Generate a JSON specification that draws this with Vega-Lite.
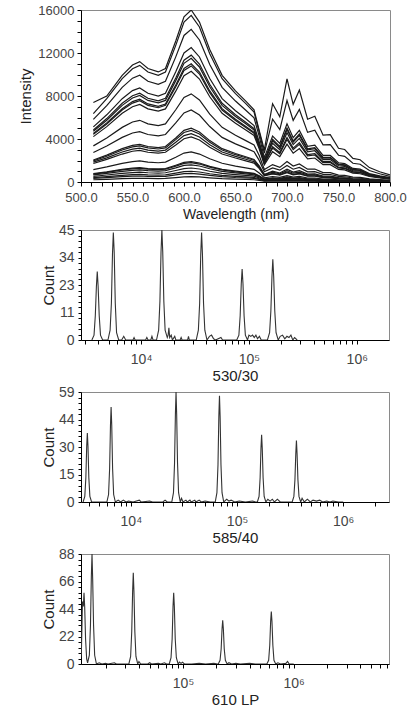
{
  "$schema": "https://vega.github.io/schema/vega-lite/v6.json",
  "padding": {"left": 18, "top": 3, "right": 4, "bottom": 0},
  "background": "white",
  "spacing": 0,
  "config": {
    "font": "Liberation Sans",
    "view": {"stroke": "#8a8a8a", "strokeWidth": 1},
    "axis": {
      "domainColor": "#000", "tickColor": "#000", "labelColor": "#444", "titleColor": "#222",
      "labelFont": "Liberation Sans", "titleFont": "Liberation Sans", "titleFontWeight": "normal",
      "grid": false, "labelFlush": false, "labelOverlap": false, "labelBound": false
    }
  },
  "datasets": {
    "spec": [
      {"s":1,"w":512,"v":7400},{"s":1,"w":525,"v":8000},{"s":1,"w":540,"v":9920},{"s":1,"w":550,"v":10880},{"s":1,"w":557,"v":11200},{"s":1,"w":565,"v":10560},{"s":1,"w":575,"v":10240},{"s":1,"w":582,"v":10560},{"s":1,"w":592,"v":13120},{"s":1,"w":600,"v":15360},{"s":1,"w":607,"v":16000},{"s":1,"w":615,"v":14880},{"s":1,"w":625,"v":12320},{"s":1,"w":637,"v":9920},{"s":1,"w":650,"v":8480},{"s":1,"w":660,"v":7520},{"s":1,"w":668,"v":6720},{"s":1,"w":673,"v":4800},{"s":1,"w":678,"v":2980},{"s":1,"w":686,"v":7280},{"s":1,"w":693,"v":6060},{"s":1,"w":700,"v":9600},{"s":1,"w":706,"v":7230},{"s":1,"w":712,"v":8560},{"s":1,"w":720,"v":5840},{"s":1,"w":727,"v":6110},{"s":1,"w":735,"v":4360},{"s":1,"w":742,"v":4400},{"s":1,"w":750,"v":3140},{"s":1,"w":756,"v":3020},{"s":1,"w":764,"v":2190},{"s":1,"w":771,"v":2070},{"s":1,"w":780,"v":1340},{"s":1,"w":790,"v":950},{"s":1,"w":800,"v":660},
      {"s":2,"w":512,"v":6360},{"s":2,"w":525,"v":7750},{"s":2,"w":540,"v":9610},{"s":2,"w":550,"v":10540},{"s":2,"w":557,"v":10850},{"s":2,"w":565,"v":10230},{"s":2,"w":575,"v":9920},{"s":2,"w":582,"v":10230},{"s":2,"w":592,"v":12710},{"s":2,"w":600,"v":14880},{"s":2,"w":607,"v":15500},{"s":2,"w":615,"v":14420},{"s":2,"w":625,"v":11940},{"s":2,"w":637,"v":9610},{"s":2,"w":650,"v":8220},{"s":2,"w":660,"v":7290},{"s":2,"w":668,"v":6510},{"s":2,"w":673,"v":4650},{"s":2,"w":678,"v":2680},{"s":2,"w":686,"v":5850},{"s":2,"w":693,"v":4870},{"s":2,"w":700,"v":7580},{"s":2,"w":706,"v":5730},{"s":2,"w":712,"v":6740},{"s":2,"w":720,"v":4620},{"s":2,"w":727,"v":4820},{"s":2,"w":735,"v":3450},{"s":2,"w":742,"v":3470},{"s":2,"w":750,"v":2490},{"s":2,"w":756,"v":2390},{"s":2,"w":764,"v":1740},{"s":2,"w":771,"v":1650},{"s":2,"w":780,"v":1070},{"s":2,"w":790,"v":770},{"s":2,"w":800,"v":530},
      {"s":3,"w":512,"v":5820},{"s":3,"w":525,"v":7100},{"s":3,"w":540,"v":8800},{"s":3,"w":550,"v":9660},{"s":3,"w":557,"v":9940},{"s":3,"w":565,"v":9370},{"s":3,"w":575,"v":9090},{"s":3,"w":582,"v":9370},{"s":3,"w":592,"v":11640},{"s":3,"w":600,"v":13630},{"s":3,"w":607,"v":14200},{"s":3,"w":615,"v":13210},{"s":3,"w":625,"v":10930},{"s":3,"w":637,"v":8800},{"s":3,"w":650,"v":7530},{"s":3,"w":660,"v":6670},{"s":3,"w":668,"v":5960},{"s":3,"w":673,"v":4260},{"s":3,"w":678,"v":2270},{"s":3,"w":686,"v":4280},{"s":3,"w":693,"v":3580},{"s":3,"w":700,"v":5410},{"s":3,"w":706,"v":4120},{"s":3,"w":712,"v":4800},{"s":3,"w":720,"v":3320},{"s":3,"w":727,"v":3430},{"s":3,"w":735,"v":2470},{"s":3,"w":742,"v":2470},{"s":3,"w":750,"v":1790},{"s":3,"w":756,"v":1710},{"s":3,"w":764,"v":1260},{"s":3,"w":771,"v":1190},{"s":3,"w":780,"v":780},{"s":3,"w":790,"v":570},{"s":3,"w":800,"v":400},
      {"s":4,"w":512,"v":5130},{"s":4,"w":525,"v":6250},{"s":4,"w":540,"v":7750},{"s":4,"w":550,"v":8500},{"s":4,"w":557,"v":8750},{"s":4,"w":565,"v":8250},{"s":4,"w":575,"v":8000},{"s":4,"w":582,"v":8250},{"s":4,"w":592,"v":10250},{"s":4,"w":600,"v":12000},{"s":4,"w":607,"v":12500},{"s":4,"w":615,"v":11630},{"s":4,"w":625,"v":9630},{"s":4,"w":637,"v":7750},{"s":4,"w":650,"v":6630},{"s":4,"w":660,"v":5880},{"s":4,"w":668,"v":5250},{"s":4,"w":673,"v":3750},{"s":4,"w":678,"v":2030},{"s":4,"w":686,"v":3960},{"s":4,"w":693,"v":3300},{"s":4,"w":700,"v":5030},{"s":4,"w":706,"v":3820},{"s":4,"w":712,"v":4460},{"s":4,"w":720,"v":3080},{"s":4,"w":727,"v":3190},{"s":4,"w":735,"v":2290},{"s":4,"w":742,"v":2300},{"s":4,"w":750,"v":1660},{"s":4,"w":756,"v":1590},{"s":4,"w":764,"v":1170},{"s":4,"w":771,"v":1100},{"s":4,"w":780,"v":720},{"s":4,"w":790,"v":520},{"s":4,"w":800,"v":360},
      {"s":5,"w":512,"v":4720},{"s":5,"w":525,"v":5750},{"s":5,"w":540,"v":7130},{"s":5,"w":550,"v":7820},{"s":5,"w":557,"v":8050},{"s":5,"w":565,"v":7590},{"s":5,"w":575,"v":7360},{"s":5,"w":582,"v":7590},{"s":5,"w":592,"v":9430},{"s":5,"w":600,"v":11040},{"s":5,"w":607,"v":11500},{"s":5,"w":615,"v":10700},{"s":5,"w":625,"v":8860},{"s":5,"w":637,"v":7130},{"s":5,"w":650,"v":6100},{"s":5,"w":660,"v":5410},{"s":5,"w":668,"v":4830},{"s":5,"w":673,"v":3450},{"s":5,"w":678,"v":1860},{"s":5,"w":686,"v":3610},{"s":5,"w":693,"v":3010},{"s":5,"w":700,"v":4580},{"s":5,"w":706,"v":3480},{"s":5,"w":712,"v":4060},{"s":5,"w":720,"v":2800},{"s":5,"w":727,"v":2910},{"s":5,"w":735,"v":2090},{"s":5,"w":742,"v":2090},{"s":5,"w":750,"v":1510},{"s":5,"w":756,"v":1450},{"s":5,"w":764,"v":1060},{"s":5,"w":771,"v":1000},{"s":5,"w":780,"v":660},{"s":5,"w":790,"v":480},{"s":5,"w":800,"v":330},
      {"s":6,"w":512,"v":4510},{"s":6,"w":525,"v":5500},{"s":6,"w":540,"v":6820},{"s":6,"w":550,"v":7480},{"s":6,"w":557,"v":7700},{"s":6,"w":565,"v":7260},{"s":6,"w":575,"v":7040},{"s":6,"w":582,"v":7260},{"s":6,"w":592,"v":9020},{"s":6,"w":600,"v":10560},{"s":6,"w":607,"v":11000},{"s":6,"w":615,"v":10230},{"s":6,"w":625,"v":8470},{"s":6,"w":637,"v":6820},{"s":6,"w":650,"v":5830},{"s":6,"w":660,"v":5170},{"s":6,"w":668,"v":4620},{"s":6,"w":673,"v":3300},{"s":6,"w":678,"v":1730},{"s":6,"w":686,"v":3150},{"s":6,"w":693,"v":2630},{"s":6,"w":700,"v":3950},{"s":6,"w":706,"v":3010},{"s":6,"w":712,"v":3500},{"s":6,"w":720,"v":2430},{"s":6,"w":727,"v":2510},{"s":6,"w":735,"v":1810},{"s":6,"w":742,"v":1810},{"s":6,"w":750,"v":1310},{"s":6,"w":756,"v":1250},{"s":6,"w":764,"v":920},{"s":6,"w":771,"v":870},{"s":6,"w":780,"v":570},{"s":6,"w":790,"v":420},{"s":6,"w":800,"v":290},
      {"s":7,"w":512,"v":4220},{"s":7,"w":525,"v":5150},{"s":7,"w":540,"v":6390},{"s":7,"w":550,"v":7000},{"s":7,"w":557,"v":7210},{"s":7,"w":565,"v":6800},{"s":7,"w":575,"v":6590},{"s":7,"w":582,"v":6800},{"s":7,"w":592,"v":8450},{"s":7,"w":600,"v":9890},{"s":7,"w":607,"v":10300},{"s":7,"w":615,"v":9580},{"s":7,"w":625,"v":7930},{"s":7,"w":637,"v":6390},{"s":7,"w":650,"v":5460},{"s":7,"w":660,"v":4840},{"s":7,"w":668,"v":4330},{"s":7,"w":673,"v":3090},{"s":7,"w":678,"v":1600},{"s":7,"w":686,"v":2820},{"s":7,"w":693,"v":2360},{"s":7,"w":700,"v":3520},{"s":7,"w":706,"v":2680},{"s":7,"w":712,"v":3110},{"s":7,"w":720,"v":2160},{"s":7,"w":727,"v":2230},{"s":7,"w":735,"v":1610},{"s":7,"w":742,"v":1610},{"s":7,"w":750,"v":1170},{"s":7,"w":756,"v":1120},{"s":7,"w":764,"v":830},{"s":7,"w":771,"v":770},{"s":7,"w":780,"v":510},{"s":7,"w":790,"v":370},{"s":7,"w":800,"v":260},
      {"s":8,"w":512,"v":3360},{"s":8,"w":525,"v":4100},{"s":8,"w":540,"v":5080},{"s":8,"w":550,"v":5580},{"s":8,"w":557,"v":5740},{"s":8,"w":565,"v":5410},{"s":8,"w":575,"v":5250},{"s":8,"w":582,"v":5410},{"s":8,"w":592,"v":6720},{"s":8,"w":600,"v":7870},{"s":8,"w":607,"v":8200},{"s":8,"w":615,"v":7630},{"s":8,"w":625,"v":6310},{"s":8,"w":637,"v":5080},{"s":8,"w":650,"v":4350},{"s":8,"w":660,"v":3850},{"s":8,"w":668,"v":3440},{"s":8,"w":673,"v":2460},{"s":8,"w":678,"v":1160},{"s":8,"w":686,"v":1620},{"s":8,"w":693,"v":1360},{"s":8,"w":700,"v":1910},{"s":8,"w":706,"v":1480},{"s":8,"w":712,"v":1680},{"s":8,"w":720,"v":1190},{"s":8,"w":727,"v":1210},{"s":8,"w":735,"v":880},{"s":8,"w":742,"v":870},{"s":8,"w":750,"v":640},{"s":8,"w":756,"v":610},{"s":8,"w":764,"v":460},{"s":8,"w":771,"v":430},{"s":8,"w":780,"v":290},{"s":8,"w":790,"v":220},{"s":8,"w":800,"v":160},
      {"s":9,"w":512,"v":2750},{"s":9,"w":525,"v":3350},{"s":9,"w":540,"v":4150},{"s":9,"w":550,"v":4560},{"s":9,"w":557,"v":4690},{"s":9,"w":565,"v":4420},{"s":9,"w":575,"v":4290},{"s":9,"w":582,"v":4420},{"s":9,"w":592,"v":5490},{"s":9,"w":600,"v":6430},{"s":9,"w":607,"v":6700},{"s":9,"w":615,"v":6230},{"s":9,"w":625,"v":5160},{"s":9,"w":637,"v":4150},{"s":9,"w":650,"v":3550},{"s":9,"w":660,"v":3150},{"s":9,"w":668,"v":2810},{"s":9,"w":673,"v":2010},{"s":9,"w":678,"v":950},{"s":9,"w":686,"v":1310},{"s":9,"w":693,"v":1100},{"s":9,"w":700,"v":1540},{"s":9,"w":706,"v":1190},{"s":9,"w":712,"v":1350},{"s":9,"w":720,"v":950},{"s":9,"w":727,"v":970},{"s":9,"w":735,"v":710},{"s":9,"w":742,"v":700},{"s":9,"w":750,"v":520},{"s":9,"w":756,"v":490},{"s":9,"w":764,"v":370},{"s":9,"w":771,"v":350},{"s":9,"w":780,"v":240},{"s":9,"w":790,"v":180},{"s":9,"w":800,"v":130},
      {"s":10,"w":512,"v":2050},{"s":10,"w":525,"v":2500},{"s":10,"w":540,"v":3100},{"s":10,"w":550,"v":3400},{"s":10,"w":557,"v":3500},{"s":10,"w":565,"v":3300},{"s":10,"w":575,"v":3200},{"s":10,"w":582,"v":3300},{"s":10,"w":592,"v":4100},{"s":10,"w":600,"v":4800},{"s":10,"w":607,"v":5000},{"s":10,"w":615,"v":4650},{"s":10,"w":625,"v":3850},{"s":10,"w":637,"v":3100},{"s":10,"w":650,"v":2650},{"s":10,"w":660,"v":2350},{"s":10,"w":668,"v":2100},{"s":10,"w":673,"v":1500},{"s":10,"w":678,"v":700},{"s":10,"w":686,"v":910},{"s":10,"w":693,"v":760},{"s":10,"w":700,"v":1050},{"s":10,"w":706,"v":820},{"s":10,"w":712,"v":920},{"s":10,"w":720,"v":660},{"s":10,"w":727,"v":660},{"s":10,"w":735,"v":490},{"s":10,"w":742,"v":480},{"s":10,"w":750,"v":360},{"s":10,"w":756,"v":340},{"s":10,"w":764,"v":260},{"s":10,"w":771,"v":240},{"s":10,"w":780,"v":160},{"s":10,"w":790,"v":120},{"s":10,"w":800,"v":90},
      {"s":11,"w":512,"v":1850},{"s":11,"w":525,"v":2250},{"s":11,"w":540,"v":2790},{"s":11,"w":550,"v":3060},{"s":11,"w":557,"v":3150},{"s":11,"w":565,"v":2970},{"s":11,"w":575,"v":2880},{"s":11,"w":582,"v":2970},{"s":11,"w":592,"v":3690},{"s":11,"w":600,"v":4320},{"s":11,"w":607,"v":4500},{"s":11,"w":615,"v":4190},{"s":11,"w":625,"v":3470},{"s":11,"w":637,"v":2790},{"s":11,"w":650,"v":2390},{"s":11,"w":660,"v":2120},{"s":11,"w":668,"v":1890},{"s":11,"w":673,"v":1350},{"s":11,"w":678,"v":620},{"s":11,"w":686,"v":810},{"s":11,"w":693,"v":680},{"s":11,"w":700,"v":930},{"s":11,"w":706,"v":720},{"s":11,"w":712,"v":810},{"s":11,"w":720,"v":580},{"s":11,"w":727,"v":580},{"s":11,"w":735,"v":430},{"s":11,"w":742,"v":420},{"s":11,"w":750,"v":310},{"s":11,"w":756,"v":300},{"s":11,"w":764,"v":230},{"s":11,"w":771,"v":210},{"s":11,"w":780,"v":150},{"s":11,"w":790,"v":110},{"s":11,"w":800,"v":80},
      {"s":12,"w":512,"v":1150},{"s":12,"w":525,"v":1400},{"s":12,"w":540,"v":1740},{"s":12,"w":550,"v":1900},{"s":12,"w":557,"v":1960},{"s":12,"w":565,"v":1850},{"s":12,"w":575,"v":1790},{"s":12,"w":582,"v":1850},{"s":12,"w":592,"v":2300},{"s":12,"w":600,"v":2690},{"s":12,"w":607,"v":2800},{"s":12,"w":615,"v":2600},{"s":12,"w":625,"v":2160},{"s":12,"w":637,"v":1740},{"s":12,"w":650,"v":1480},{"s":12,"w":660,"v":1320},{"s":12,"w":668,"v":1180},{"s":12,"w":673,"v":840},{"s":12,"w":678,"v":390},{"s":12,"w":686,"v":510},{"s":12,"w":693,"v":430},{"s":12,"w":700,"v":590},{"s":12,"w":706,"v":460},{"s":12,"w":712,"v":520},{"s":12,"w":720,"v":370},{"s":12,"w":727,"v":370},{"s":12,"w":735,"v":270},{"s":12,"w":742,"v":270},{"s":12,"w":750,"v":200},{"s":12,"w":756,"v":190},{"s":12,"w":764,"v":140},{"s":12,"w":771,"v":130},{"s":12,"w":780,"v":90},{"s":12,"w":790,"v":70},{"s":12,"w":800,"v":50},
      {"s":13,"w":512,"v":780},{"s":13,"w":525,"v":950},{"s":13,"w":540,"v":1180},{"s":13,"w":550,"v":1290},{"s":13,"w":557,"v":1330},{"s":13,"w":565,"v":1250},{"s":13,"w":575,"v":1220},{"s":13,"w":582,"v":1250},{"s":13,"w":592,"v":1560},{"s":13,"w":600,"v":1820},{"s":13,"w":607,"v":1900},{"s":13,"w":615,"v":1770},{"s":13,"w":625,"v":1460},{"s":13,"w":637,"v":1180},{"s":13,"w":650,"v":1010},{"s":13,"w":660,"v":890},{"s":13,"w":668,"v":800},{"s":13,"w":673,"v":570},{"s":13,"w":678,"v":260},{"s":13,"w":686,"v":340},{"s":13,"w":693,"v":290},{"s":13,"w":700,"v":400},{"s":13,"w":706,"v":310},{"s":13,"w":712,"v":350},{"s":13,"w":720,"v":250},{"s":13,"w":727,"v":250},{"s":13,"w":735,"v":180},{"s":13,"w":742,"v":180},{"s":13,"w":750,"v":130},{"s":13,"w":756,"v":130},{"s":13,"w":764,"v":100},{"s":13,"w":771,"v":90},{"s":13,"w":780,"v":60},{"s":13,"w":790,"v":50},{"s":13,"w":800,"v":30},
      {"s":14,"w":512,"v":660},{"s":14,"w":525,"v":800},{"s":14,"w":540,"v":990},{"s":14,"w":550,"v":1090},{"s":14,"w":557,"v":1120},{"s":14,"w":565,"v":1060},{"s":14,"w":575,"v":1020},{"s":14,"w":582,"v":1060},{"s":14,"w":592,"v":1310},{"s":14,"w":600,"v":1540},{"s":14,"w":607,"v":1600},{"s":14,"w":615,"v":1490},{"s":14,"w":625,"v":1230},{"s":14,"w":637,"v":990},{"s":14,"w":650,"v":850},{"s":14,"w":660,"v":750},{"s":14,"w":668,"v":670},{"s":14,"w":673,"v":480},{"s":14,"w":678,"v":220},{"s":14,"w":686,"v":290},{"s":14,"w":693,"v":240},{"s":14,"w":700,"v":330},{"s":14,"w":706,"v":260},{"s":14,"w":712,"v":290},{"s":14,"w":720,"v":210},{"s":14,"w":727,"v":210},{"s":14,"w":735,"v":150},{"s":14,"w":742,"v":150},{"s":14,"w":750,"v":110},{"s":14,"w":756,"v":110},{"s":14,"w":764,"v":80},{"s":14,"w":771,"v":70},{"s":14,"w":780,"v":50},{"s":14,"w":790,"v":40},{"s":14,"w":800,"v":30},
      {"s":15,"w":512,"v":410},{"s":15,"w":525,"v":500},{"s":15,"w":540,"v":620},{"s":15,"w":550,"v":680},{"s":15,"w":557,"v":700},{"s":15,"w":565,"v":660},{"s":15,"w":575,"v":640},{"s":15,"w":582,"v":660},{"s":15,"w":592,"v":820},{"s":15,"w":600,"v":960},{"s":15,"w":607,"v":1000},{"s":15,"w":615,"v":930},{"s":15,"w":625,"v":770},{"s":15,"w":637,"v":620},{"s":15,"w":650,"v":530},{"s":15,"w":660,"v":470},{"s":15,"w":668,"v":420},{"s":15,"w":673,"v":300},{"s":15,"w":678,"v":140},{"s":15,"w":686,"v":180},{"s":15,"w":693,"v":150},{"s":15,"w":700,"v":200},{"s":15,"w":706,"v":160},{"s":15,"w":712,"v":180},{"s":15,"w":720,"v":130},{"s":15,"w":727,"v":130},{"s":15,"w":735,"v":90},{"s":15,"w":742,"v":90},{"s":15,"w":750,"v":70},{"s":15,"w":756,"v":60},{"s":15,"w":764,"v":50},{"s":15,"w":771,"v":45},{"s":15,"w":780,"v":30},{"s":15,"w":790,"v":20},{"s":15,"w":800,"v":20},
      {"s":16,"w":512,"v":210},{"s":16,"w":525,"v":250},{"s":16,"w":540,"v":310},{"s":16,"w":550,"v":340},{"s":16,"w":557,"v":350},{"s":16,"w":565,"v":330},{"s":16,"w":575,"v":320},{"s":16,"w":582,"v":330},{"s":16,"w":592,"v":410},{"s":16,"w":600,"v":480},{"s":16,"w":607,"v":500},{"s":16,"w":615,"v":470},{"s":16,"w":625,"v":390},{"s":16,"w":637,"v":310},{"s":16,"w":650,"v":270},{"s":16,"w":660,"v":240},{"s":16,"w":668,"v":210},{"s":16,"w":673,"v":150},{"s":16,"w":678,"v":70},{"s":16,"w":686,"v":90},{"s":16,"w":693,"v":80},{"s":16,"w":700,"v":100},{"s":16,"w":706,"v":80},{"s":16,"w":712,"v":90},{"s":16,"w":720,"v":70},{"s":16,"w":727,"v":70},{"s":16,"w":735,"v":50},{"s":16,"w":742,"v":50},{"s":16,"w":750,"v":40},{"s":16,"w":756,"v":30},{"s":16,"w":764,"v":30},{"s":16,"w":771,"v":20},{"s":16,"w":780,"v":20},{"s":16,"w":790,"v":10},{"s":16,"w":800,"v":10},
      {"s":17,"w":512,"v":4840},{"s":17,"w":525,"v":5900},{"s":17,"w":540,"v":7320},{"s":17,"w":550,"v":8020},{"s":17,"w":557,"v":8260},{"s":17,"w":565,"v":7790},{"s":17,"w":575,"v":7550},{"s":17,"w":582,"v":7790},{"s":17,"w":592,"v":9680},{"s":17,"w":600,"v":11330},{"s":17,"w":607,"v":11800},{"s":17,"w":615,"v":10970},{"s":17,"w":625,"v":9090},{"s":17,"w":637,"v":7320},{"s":17,"w":650,"v":6250},{"s":17,"w":660,"v":5550},{"s":17,"w":668,"v":4960},{"s":17,"w":673,"v":3540},{"s":17,"w":678,"v":1930},{"s":17,"w":686,"v":3840},{"s":17,"w":693,"v":3200},{"s":17,"w":700,"v":4890},{"s":17,"w":706,"v":3710},{"s":17,"w":712,"v":4340},{"s":17,"w":720,"v":2990},{"s":17,"w":727,"v":3110},{"s":17,"w":735,"v":2230},{"s":17,"w":742,"v":2240},{"s":17,"w":750,"v":1610},{"s":17,"w":756,"v":1550},{"s":17,"w":764,"v":1140},{"s":17,"w":771,"v":1070},{"s":17,"w":780,"v":700},{"s":17,"w":790,"v":510},{"s":17,"w":800,"v":350},
      {"s":18,"w":512,"v":4430},{"s":18,"w":525,"v":5400},{"s":18,"w":540,"v":6700},{"s":18,"w":550,"v":7340},{"s":18,"w":557,"v":7560},{"s":18,"w":565,"v":7130},{"s":18,"w":575,"v":6910},{"s":18,"w":582,"v":7130},{"s":18,"w":592,"v":8860},{"s":18,"w":600,"v":10370},{"s":18,"w":607,"v":10800},{"s":18,"w":615,"v":10040},{"s":18,"w":625,"v":8320},{"s":18,"w":637,"v":6700},{"s":18,"w":650,"v":5720},{"s":18,"w":660,"v":5080},{"s":18,"w":668,"v":4540},{"s":18,"w":673,"v":3240},{"s":18,"w":678,"v":1730},{"s":18,"w":686,"v":3280},{"s":18,"w":693,"v":2740},{"s":18,"w":700,"v":4140},{"s":18,"w":706,"v":3150},{"s":18,"w":712,"v":3670},{"s":18,"w":720,"v":2540},{"s":18,"w":727,"v":2630},{"s":18,"w":735,"v":1890},{"s":18,"w":742,"v":1890},{"s":18,"w":750,"v":1370},{"s":18,"w":756,"v":1310},{"s":18,"w":764,"v":970},{"s":18,"w":771,"v":910},{"s":18,"w":780,"v":600},{"s":18,"w":790,"v":430},{"s":18,"w":800,"v":300},
      {"s":19,"w":512,"v":1970},{"s":19,"w":525,"v":2400},{"s":19,"w":540,"v":2980},{"s":19,"w":550,"v":3260},{"s":19,"w":557,"v":3360},{"s":19,"w":565,"v":3170},{"s":19,"w":575,"v":3070},{"s":19,"w":582,"v":3170},{"s":19,"w":592,"v":3940},{"s":19,"w":600,"v":4610},{"s":19,"w":607,"v":4800},{"s":19,"w":615,"v":4460},{"s":19,"w":625,"v":3700},{"s":19,"w":637,"v":2980},{"s":19,"w":650,"v":2540},{"s":19,"w":660,"v":2260},{"s":19,"w":668,"v":2020},{"s":19,"w":673,"v":1440},{"s":19,"w":678,"v":690},{"s":19,"w":686,"v":1000},{"s":19,"w":693,"v":840},{"s":19,"w":700,"v":1190},{"s":19,"w":706,"v":920},{"s":19,"w":712,"v":1050},{"s":19,"w":720,"v":740},{"s":19,"w":727,"v":750},{"s":19,"w":735,"v":550},{"s":19,"w":742,"v":540},{"s":19,"w":750,"v":400},{"s":19,"w":756,"v":380},{"s":19,"w":764,"v":290},{"s":19,"w":771,"v":270},{"s":19,"w":780,"v":180},{"s":19,"w":790,"v":130},{"s":19,"w":800,"v":100},
      {"s":20,"w":512,"v":1720},{"s":20,"w":525,"v":2100},{"s":20,"w":540,"v":2600},{"s":20,"w":550,"v":2860},{"s":20,"w":557,"v":2940},{"s":20,"w":565,"v":2770},{"s":20,"w":575,"v":2690},{"s":20,"w":582,"v":2770},{"s":20,"w":592,"v":3440},{"s":20,"w":600,"v":4030},{"s":20,"w":607,"v":4200},{"s":20,"w":615,"v":3910},{"s":20,"w":625,"v":3230},{"s":20,"w":637,"v":2600},{"s":20,"w":650,"v":2230},{"s":20,"w":660,"v":1970},{"s":20,"w":668,"v":1760},{"s":20,"w":673,"v":1260},{"s":20,"w":678,"v":580},{"s":20,"w":686,"v":750},{"s":20,"w":693,"v":630},{"s":20,"w":700,"v":860},{"s":20,"w":706,"v":670},{"s":20,"w":712,"v":750},{"s":20,"w":720,"v":540},{"s":20,"w":727,"v":540},{"s":20,"w":735,"v":400},{"s":20,"w":742,"v":390},{"s":20,"w":750,"v":290},{"s":20,"w":756,"v":280},{"s":20,"w":764,"v":210},{"s":20,"w":771,"v":200},{"s":20,"w":780,"v":130},{"s":20,"w":790,"v":100},{"s":20,"w":800,"v":70},
      {"s":21,"w":512,"v":740},{"s":21,"w":525,"v":900},{"s":21,"w":540,"v":1120},{"s":21,"w":550,"v":1220},{"s":21,"w":557,"v":1260},{"s":21,"w":565,"v":1190},{"s":21,"w":575,"v":1150},{"s":21,"w":582,"v":1190},{"s":21,"w":592,"v":1480},{"s":21,"w":600,"v":1730},{"s":21,"w":607,"v":1800},{"s":21,"w":615,"v":1670},{"s":21,"w":625,"v":1390},{"s":21,"w":637,"v":1120},{"s":21,"w":650,"v":950},{"s":21,"w":660,"v":850},{"s":21,"w":668,"v":760},{"s":21,"w":673,"v":540},{"s":21,"w":678,"v":260},{"s":21,"w":686,"v":390},{"s":21,"w":693,"v":330},{"s":21,"w":700,"v":470},{"s":21,"w":706,"v":360},{"s":21,"w":712,"v":410},{"s":21,"w":720,"v":290},{"s":21,"w":727,"v":300},{"s":21,"w":735,"v":220},{"s":21,"w":742,"v":210},{"s":21,"w":750,"v":160},{"s":21,"w":756,"v":150},{"s":21,"w":764,"v":110},{"s":21,"w":771,"v":100},{"s":21,"w":780,"v":70},{"s":21,"w":790,"v":50},{"s":21,"w":800,"v":40},
      {"s":22,"w":512,"v":530},{"s":22,"w":525,"v":650},{"s":22,"w":540,"v":810},{"s":22,"w":550,"v":880},{"s":22,"w":557,"v":910},{"s":22,"w":565,"v":860},{"s":22,"w":575,"v":830},{"s":22,"w":582,"v":860},{"s":22,"w":592,"v":1070},{"s":22,"w":600,"v":1250},{"s":22,"w":607,"v":1300},{"s":22,"w":615,"v":1210},{"s":22,"w":625,"v":1000},{"s":22,"w":637,"v":810},{"s":22,"w":650,"v":690},{"s":22,"w":660,"v":610},{"s":22,"w":668,"v":550},{"s":22,"w":673,"v":390},{"s":22,"w":678,"v":180},{"s":22,"w":686,"v":230},{"s":22,"w":693,"v":190},{"s":22,"w":700,"v":270},{"s":22,"w":706,"v":210},{"s":22,"w":712,"v":230},{"s":22,"w":720,"v":170},{"s":22,"w":727,"v":170},{"s":22,"w":735,"v":120},{"s":22,"w":742,"v":120},{"s":22,"w":750,"v":90},{"s":22,"w":756,"v":85},{"s":22,"w":764,"v":65},{"s":22,"w":771,"v":60},{"s":22,"w":780,"v":40},{"s":22,"w":790,"v":30},{"s":22,"w":800,"v":20},
      {"s":23,"w":512,"v":330},{"s":23,"w":525,"v":400},{"s":23,"w":540,"v":500},{"s":23,"w":550,"v":540},{"s":23,"w":557,"v":560},{"s":23,"w":565,"v":530},{"s":23,"w":575,"v":510},{"s":23,"w":582,"v":530},{"s":23,"w":592,"v":660},{"s":23,"w":600,"v":770},{"s":23,"w":607,"v":800},{"s":23,"w":615,"v":740},{"s":23,"w":625,"v":620},{"s":23,"w":637,"v":500},{"s":23,"w":650,"v":420},{"s":23,"w":660,"v":380},{"s":23,"w":668,"v":340},{"s":23,"w":673,"v":240},{"s":23,"w":678,"v":110},{"s":23,"w":686,"v":140},{"s":23,"w":693,"v":120},{"s":23,"w":700,"v":160},{"s":23,"w":706,"v":130},{"s":23,"w":712,"v":140},{"s":23,"w":720,"v":100},{"s":23,"w":727,"v":100},{"s":23,"w":735,"v":70},{"s":23,"w":742,"v":70},{"s":23,"w":750,"v":50},{"s":23,"w":756,"v":50},{"s":23,"w":764,"v":40},{"s":23,"w":771,"v":40},{"s":23,"w":780,"v":30},{"s":23,"w":790,"v":20},{"s":23,"w":800,"v":10}
    ],
    "h1": [
      {"x":3494,"c":0},{"x":3659,"c":2},{"x":3761,"c":10},{"x":3849,"c":22},{"x":3920,"c":28},{"x":3993,"c":22},{"x":4086,"c":10},{"x":4200,"c":2},{"x":4398,"c":0},
      {"x":4924,"c":0},{"x":5157,"c":4},{"x":5301,"c":15},{"x":5424,"c":35},{"x":5525,"c":44},{"x":5628,"c":36},{"x":5759,"c":15},{"x":5920,"c":3},{"x":6199,"c":0},
      {"x":6600,"c":0},{"x":6900,"c":1.5},{"x":7200,"c":0},{"x":8400,"c":0},{"x":8600,"c":1},{"x":8800,"c":0},{"x":11000,"c":0},{"x":11300,"c":1},{"x":11600,"c":0},{"x":12300,"c":0},{"x":12600,"c":1.5},{"x":12900,"c":0},
      {"x":13886,"c":0},{"x":14541,"c":4},{"x":14947,"c":16},{"x":15296,"c":36},{"x":15580,"c":45},{"x":15870,"c":36},{"x":16239,"c":16},{"x":16694,"c":4},{"x":17481,"c":1},{"x":17800,"c":2},{"x":18100,"c":5},{"x":18400,"c":1},{"x":19000,"c":2},{"x":19500,"c":0},{"x":20500,"c":1.5},{"x":21000,"c":0},
      {"x":23000,"c":0},{"x":23500,"c":1},{"x":24000,"c":0},{"x":27000,"c":0},{"x":27500,"c":1.5},{"x":28000,"c":0},
      {"x":32425,"c":0},{"x":33953,"c":4},{"x":34903,"c":15},{"x":35718,"c":35},{"x":36380,"c":44},{"x":37057,"c":35},{"x":37919,"c":15},{"x":38981,"c":4},{"x":40818,"c":0},
      {"x":43000,"c":1.5},{"x":45000,"c":2},{"x":47000,"c":0.5},{"x":49000,"c":0},{"x":55000,"c":1},{"x":57000,"c":0},
      {"x":77053,"c":0},{"x":80684,"c":2},{"x":82940,"c":10},{"x":84877,"c":23},{"x":86450,"c":29},{"x":88058,"c":23},{"x":90107,"c":10},{"x":92631,"c":2},{"x":96997,"c":0},
      {"x":100000,"c":2},{"x":104000,"c":1.5},{"x":108000,"c":2},{"x":112000,"c":1},{"x":116000,"c":2},{"x":120000,"c":0.5},{"x":125000,"c":1.5},{"x":130000,"c":0},
      {"x":148401,"c":0},{"x":155394,"c":3},{"x":159740,"c":12},{"x":163470,"c":26},{"x":166500,"c":33},{"x":169597,"c":26},{"x":173543,"c":12},{"x":178405,"c":3},{"x":186813,"c":0},
      {"x":195000,"c":1.5},{"x":205000,"c":2},{"x":215000,"c":0.5},{"x":225000,"c":1.5},{"x":235000,"c":1},{"x":245000,"c":2},{"x":255000,"c":0},{"x":265000,"c":1},{"x":280000,"c":0}
    ],
    "h2": [
      {"x":3548,"c":0},{"x":3681,"c":3},{"x":3767,"c":13},{"x":3837,"c":30},{"x":3890,"c":37},{"x":3944,"c":30},{"x":4018,"c":13},{"x":4111,"c":3},{"x":4265,"c":0},
      {"x":5940,"c":0},{"x":6163,"c":4},{"x":6307,"c":18},{"x":6424,"c":41},{"x":6513,"c":51},{"x":6604,"c":41},{"x":6727,"c":18},{"x":6883,"c":4},{"x":7142,"c":0},
      {"x":7600,"c":1},{"x":8000,"c":0},{"x":8500,"c":1},{"x":9000,"c":0},{"x":9500,"c":0.5},{"x":10500,"c":0},{"x":12000,"c":1},{"x":12500,"c":0},{"x":15000,"c":0.5},{"x":16000,"c":0},{"x":20000,"c":0},{"x":21000,"c":1},{"x":22000,"c":0},
      {"x":24287,"c":0},{"x":25197,"c":5},{"x":25786,"c":21},{"x":26265,"c":47},{"x":26630,"c":59},{"x":27000,"c":47},{"x":27504,"c":21},{"x":28143,"c":5},{"x":29200,"c":0},
      {"x":30000,"c":2},{"x":31000,"c":0},{"x":33000,"c":1},{"x":34000,"c":0},{"x":36000,"c":1},{"x":37000,"c":0},{"x":40000,"c":1},{"x":41000,"c":0},{"x":44000,"c":1},{"x":46000,"c":0},{"x":50000,"c":0.5},{"x":56000,"c":0},
      {"x":62317,"c":0},{"x":64654,"c":5},{"x":66164,"c":20},{"x":67394,"c":46},{"x":68330,"c":57},{"x":69280,"c":46},{"x":70571,"c":20},{"x":72211,"c":5},{"x":74924,"c":0},
      {"x":80000,"c":1.5},{"x":84000,"c":0.5},{"x":88000,"c":1},{"x":95000,"c":0},{"x":105000,"c":0.5},{"x":120000,"c":0},{"x":140000,"c":0.5},{"x":150000,"c":0},
      {"x":155405,"c":0},{"x":161232,"c":3},{"x":164998,"c":13},{"x":168066,"c":29},{"x":170400,"c":36},{"x":172769,"c":29},{"x":175989,"c":13},{"x":180079,"c":3},{"x":186844,"c":0},
      {"x":195000,"c":1.5},{"x":205000,"c":0.5},{"x":215000,"c":1.5},{"x":225000,"c":0},{"x":240000,"c":1.5},{"x":255000,"c":0},{"x":300000,"c":0},
      {"x":330691,"c":0},{"x":343092,"c":3},{"x":351106,"c":12},{"x":357632,"c":26},{"x":362600,"c":33},{"x":367640,"c":26},{"x":374493,"c":12},{"x":383196,"c":3},{"x":397591,"c":0},
      {"x":410000,"c":2},{"x":430000,"c":0},{"x":460000,"c":1.5},{"x":490000,"c":0},{"x":520000,"c":1},{"x":560000,"c":0.5},{"x":600000,"c":1},{"x":640000,"c":0},{"x":700000,"c":0.5},{"x":750000,"c":0},{"x":800000,"c":0.5},{"x":900000,"c":0},{"x":1000000,"c":0}
    ],
    "h3": [
      {"x":11637,"c":0},{"x":12074,"c":8},{"x":12356,"c":50},{"x":12585,"c":46},{"x":12760,"c":57},{"x":12937,"c":46},{"x":13179,"c":20},{"x":13485,"c":4},
      {"x":13744,"c":1},{"x":14259,"c":7},{"x":14592,"c":31},{"x":14864,"c":70},{"x":15070,"c":88},{"x":15279,"c":68},{"x":15564,"c":31},{"x":15926,"c":7},{"x":16524,"c":0},
      {"x":17500,"c":1},{"x":18500,"c":0},{"x":20000,"c":0.5},{"x":21000,"c":0},{"x":24000,"c":1},{"x":25000,"c":0},{"x":30000,"c":0},
      {"x":32431,"c":0},{"x":33647,"c":6},{"x":34433,"c":26},{"x":35073,"c":58},{"x":35560,"c":73},{"x":36054,"c":58},{"x":36726,"c":26},{"x":37580,"c":6},{"x":38992,"c":0},
      {"x":40000,"c":2},{"x":41500,"c":0},{"x":48000,"c":0},{"x":50000,"c":1},{"x":52000,"c":0},{"x":60000,"c":0.5},{"x":63000,"c":0},{"x":68000,"c":1},{"x":71000,"c":0},
      {"x":75149,"c":0},{"x":77967,"c":5},{"x":79788,"c":20},{"x":81271,"c":46},{"x":82400,"c":57},{"x":83545,"c":46},{"x":85103,"c":20},{"x":87080,"c":5},{"x":90352,"c":0},
      {"x":93000,"c":1.5},{"x":96000,"c":0.5},{"x":99000,"c":1.5},{"x":103000,"c":0},{"x":120000,"c":0},{"x":140000,"c":0.5},{"x":160000,"c":0},{"x":190000,"c":0.5},{"x":205000,"c":0},
      {"x":208301,"c":0},{"x":216112,"c":3},{"x":221160,"c":12},{"x":225272,"c":28},{"x":228400,"c":35},{"x":231575,"c":28},{"x":235893,"c":12},{"x":241378,"c":3},{"x":250441,"c":0},
      {"x":260000,"c":1},{"x":275000,"c":0},{"x":300000,"c":0.5},{"x":330000,"c":0},{"x":400000,"c":0.5},{"x":450000,"c":0},{"x":540000,"c":0},
      {"x":572462,"c":0},{"x":593930,"c":3},{"x":607802,"c":15},{"x":619101,"c":34},{"x":627700,"c":42},{"x":636425,"c":34},{"x":648288,"c":15},{"x":663353,"c":3},{"x":688273,"c":0},
      {"x":720000,"c":1},{"x":760000,"c":0},{"x":850000,"c":0.5},{"x":880000,"c":2},{"x":910000,"c":0},{"x":1000000,"c":0}
    ]
  },
  "vconcat": [
    {
      "width": 309, "height": 172,
      "data": {"name": "spec"},
      "mark": {"type": "line", "color": "#1a1a1a", "strokeWidth": 1.2, "clip": true},
      "encoding": {
        "x": {"field": "w", "type": "quantitative",
          "scale": {"domain": [500, 800], "nice": false, "zero": false},
          "axis": {"title": "Wavelength (nm)",
            "values": [500,510,520,530,540,550,560,570,580,590,600,610,620,630,640,650,660,670,680,690,700,710,720,730,740,750,760,770,780,790,800],
            "labelExpr": "datum.value % 50 == 0 ? format(datum.value, '.1f') : ''",
            "tickSize": 4, "labelPadding": 5, "labelFontSize": 13, "titleFontSize": 14, "titlePadding": 3}},
        "y": {"field": "v", "type": "quantitative",
          "scale": {"domain": [0, 16000], "nice": false},
          "axis": {"title": "Intensity",
            "values": [0,1000,2000,3000,4000,5000,6000,7000,8000,9000,10000,11000,12000,13000,14000,15000,16000],
            "labelExpr": "datum.value % 4000 == 0 ? format(datum.value, 'd') : ''",
            "tickSize": 4, "labelPadding": 3, "labelFontSize": 13, "titleFontSize": 15, "titlePadding": 4}},
        "detail": {"field": "s", "type": "nominal"}
      }
    },
    {
      "width": 308, "height": 110,
      "data": {"name": "h1"},
      "mark": {"type": "line", "color": "#333", "strokeWidth": 1.1, "clip": true},
      "encoding": {
        "x": {"field": "x", "type": "quantitative",
          "scale": {"type": "log", "domain": [2770, 1990000], "nice": false},
          "axis": {"title": "530/30",
            "values": [3000,4000,5000,6000,7000,8000,9000,10000,20000,30000,40000,50000,60000,70000,80000,90000,100000,200000,300000,400000,500000,600000,700000,800000,900000,1000000],
            "labelExpr": "datum.value == 10000 ? '10⁴' : datum.value == 100000 ? '10⁵' : datum.value == 1000000 ? '10⁶' : ''",
            "tickSize": 4, "labelPadding": 8, "labelFontSize": 14, "titleFontSize": 15, "titlePadding": 2}},
        "y": {"field": "c", "type": "quantitative",
          "scale": {"domain": [0, 45], "nice": false},
          "axis": {"title": "Count",
            "values": [0,2.25,4.5,6.75,9,11.25,13.5,15.75,18,20.25,22.5,24.75,27,29.25,31.5,33.75,36,38.25,40.5,42.75,45],
            "labelExpr": "indexof([0,11.25,22.5,33.75,45], datum.value) >= 0 ? format(datum.value, '.0f') : ''",
            "tickSize": 3, "labelPadding": 4, "labelFontSize": 14, "titleFontSize": 15, "titlePadding": 2}}
      }
    },
    {
      "width": 308, "height": 110,
      "data": {"name": "h2"},
      "mark": {"type": "line", "color": "#333", "strokeWidth": 1.1, "clip": true},
      "encoding": {
        "x": {"field": "x", "type": "quantitative",
          "scale": {"type": "log", "domain": [3390, 2700000], "nice": false},
          "axis": {"title": "585/40",
            "values": [4000,5000,6000,7000,8000,9000,10000,20000,30000,40000,50000,60000,70000,80000,90000,100000,200000,300000,400000,500000,600000,700000,800000,900000,1000000,2000000],
            "labelExpr": "datum.value == 10000 ? '10⁴' : datum.value == 100000 ? '10⁵' : datum.value == 1000000 ? '10⁶' : ''",
            "tickSize": 4, "labelPadding": 8, "labelFontSize": 14, "titleFontSize": 15, "titlePadding": 2}},
        "y": {"field": "c", "type": "quantitative",
          "scale": {"domain": [0, 59], "nice": false},
          "axis": {"title": "Count",
            "values": [0,2.95,5.9,8.85,11.8,14.75,17.7,20.65,23.6,26.55,29.5,32.45,35.4,38.35,41.3,44.25,47.2,50.15,53.1,56.05,59],
            "labelExpr": "indexof([0,14.75,29.5,44.25,59], datum.value) >= 0 ? format(datum.value, '.0f') : ''",
            "tickSize": 3, "labelPadding": 4, "labelFontSize": 14, "titleFontSize": 15, "titlePadding": 2}}
      }
    },
    {
      "width": 308, "height": 110,
      "data": {"name": "h3"},
      "mark": {"type": "line", "color": "#333", "strokeWidth": 1.1, "clip": true},
      "encoding": {
        "x": {"field": "x", "type": "quantitative",
          "scale": {"type": "log", "domain": [11985, 7260000], "nice": false},
          "axis": {"title": "610 LP",
            "values": [20000,30000,40000,50000,60000,70000,80000,90000,100000,200000,300000,400000,500000,600000,700000,800000,900000,1000000,2000000,3000000,4000000,5000000,6000000,7000000],
            "labelExpr": "datum.value == 100000 ? '10⁵' : datum.value == 1000000 ? '10⁶' : ''",
            "tickSize": 4, "labelPadding": 8, "labelFontSize": 14, "titleFontSize": 15, "titlePadding": 2}},
        "y": {"field": "c", "type": "quantitative",
          "scale": {"domain": [0, 88], "nice": false},
          "axis": {"title": "Count",
            "values": [0,4.4,8.8,13.2,17.6,22,26.4,30.8,35.2,39.6,44,48.4,52.8,57.2,61.6,66,70.4,74.8,79.2,83.6,88],
            "labelExpr": "indexof([0,22,44,66,88], datum.value) >= 0 ? format(datum.value, '.0f') : ''",
            "tickSize": 3, "labelPadding": 4, "labelFontSize": 14, "titleFontSize": 15, "titlePadding": 2}}
      }
    }
  ]
}
